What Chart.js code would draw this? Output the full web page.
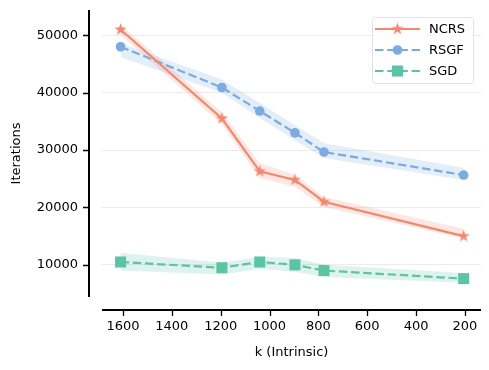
<!DOCTYPE html>
<html>
<head>
<meta charset="utf-8">
<script src="https://cdn.jsdelivr.net/npm/chart.js@4.4.1/dist/chart.umd.min.js"></script>
<style>
  html, body { margin: 0; padding: 0; background: #fff; }
  #wrap { width: 489px; height: 370px; }
</style>
</head>
<body>
<div id="wrap"><canvas id="grafico" width="489" height="370"></canvas></div>
<script>
// valores
const kValues = [1610, 1195, 1040, 896, 777, 205];
const xTicks = [1600, 1400, 1200, 1000, 800, 600, 400, 200];
const yTicks = [10000, 20000, 30000, 40000, 50000];

const ncrs = [51000, 35500, 26300, 24800, 21000, 15000];
const ncrsLow = [50100, 34500, 25100, 23600, 20100, 14600];
const ncrsHigh = [51800, 36600, 27700, 25700, 21800, 16300];

const rsgf = [48000, 40900, 36800, 33000, 29650, 25650];
const rsgfLow = [46200, 40000, 35600, 31700, 28600, 24800];
const rsgfHigh = [48600, 42300, 38200, 34300, 31200, 26900];

const sgd = [10500, 9500, 10500, 10000, 9000, 7600];
const sgdLow = [9000, 8300, 9300, 8800, 7900, 6900];
const sgdHigh = [12100, 10350, 11400, 11200, 10000, 8600];

const cores = { ncrs: '#f4876c', rsgf: '#7aace0', sgd: '#5bc4a3' };
const fonte = "'DejaVu Sans', sans-serif";

const pts = (ys) => ys.map((y, i) => ({ x: kValues[i], y: y }));

function hexAlpha(hex, a) {
    const n = parseInt(hex.slice(1), 16);
    return `rgba(${n >> 16}, ${(n >> 8) & 255}, ${n & 255}, ${a})`;
}

// estrela preenchida estilo matplotlib
function fazerEstrela(cor, r) {
    const c = document.createElement('canvas');
    const s = Math.ceil(r * 2 + 2);
    c.width = s; c.height = s;
    const g = c.getContext('2d');
    const ri = r * 0.381966;
    g.beginPath();
    for (let i = 0; i < 10; i++) {
        const ang = -Math.PI / 2 + i * Math.PI / 5;
        const rr = i % 2 === 0 ? r : ri;
        const px = s / 2 + rr * Math.cos(ang), py = s / 2 + rr * Math.sin(ang);
        if (i === 0) g.moveTo(px, py); else g.lineTo(px, py);
    }
    g.closePath();
    g.fillStyle = cor;
    g.fill();
    return c;
}
const estrela = fazerEstrela(cores.ncrs, 6.5);

function faixa(alto, baixo, cor) {
    return [
        { label: '_alto', data: pts(alto), borderWidth: 0, pointRadius: 0, fill: '+1',
          backgroundColor: hexAlpha(cor, 0.2), order: 10 },
        { label: '_baixo', data: pts(baixo), borderWidth: 0, pointRadius: 0, fill: false,
          backgroundColor: 'transparent', order: 10 }
    ];
}

const tracejado = [8.5, 3.7];
const linhas = [
    { label: 'NCRS', data: pts(ncrs), borderColor: cores.ncrs, backgroundColor: cores.ncrs,
      borderWidth: 2.2, pointStyle: estrela, pointRadius: 6, pointBorderWidth: 0, fill: false, order: 0 },
    { label: 'RSGF', data: pts(rsgf), borderColor: cores.rsgf, backgroundColor: cores.rsgf,
      borderWidth: 2.2, borderDash: tracejado, pointStyle: 'circle', pointRadius: 4.8,
      pointBorderWidth: 0, fill: false, order: 1 },
    { label: 'SGD', data: pts(sgd), borderColor: cores.sgd, backgroundColor: cores.sgd,
      borderWidth: 2.2, borderDash: tracejado, pointStyle: 'rect', pointRadius: 7.8,
      pointBorderWidth: 0, fill: false, order: 2 }
];

// sem o padding automatico dos rotulos
const semPadding = s => { s.paddingTop = 0; s.paddingBottom = 0; s.paddingLeft = 0; s.paddingRight = 0; };

const eixosDeslocados = {
    id: 'eixosDeslocados',
    afterDraw(chart) {
        const { ctx, chartArea: a, scales: { x, y } } = chart;
        ctx.save();
        ctx.strokeStyle = '#000';
        ctx.lineWidth = 2;
        const lx = a.left - 13, by = a.bottom + 13;
        ctx.beginPath();
        ctx.moveTo(lx, a.top); ctx.lineTo(lx, a.bottom);
        ctx.moveTo(a.left, by); ctx.lineTo(a.right, by);
        ctx.stroke();
        ctx.lineWidth = 1.3;
        ctx.beginPath();
        yTicks.forEach(v => {
            const py = Math.round(y.getPixelForValue(v)) + 0.5;
            ctx.moveTo(lx, py); ctx.lineTo(lx - 6, py);
        });
        xTicks.forEach(v => {
            const px = Math.round(x.getPixelForValue(v)) + 0.5;
            ctx.moveTo(px, by); ctx.lineTo(px, by + 6);
        });
        ctx.stroke();

        // legenda
        const bx = 372, byy = 17, bw = 101, bh = 66;
        ctx.beginPath();
        ctx.roundRect(bx + 0.5, byy + 0.5, bw, bh, 3);
        ctx.fillStyle = 'rgba(255,255,255,0.8)';
        ctx.fill();
        ctx.strokeStyle = '#e2e2e2';
        ctx.lineWidth = 1;
        ctx.stroke();
        ctx.font = `13px ${fonte}`;
        ctx.textBaseline = 'middle';
        ctx.textAlign = 'left';
        linhas.forEach((ds, i) => {
            const ry = 29 + i * 21;
            ctx.strokeStyle = ds.borderColor;
            ctx.lineWidth = 2.2;
            ctx.setLineDash(ds.borderDash || []);
            ctx.beginPath();
            ctx.moveTo(375, ry); ctx.lineTo(420, ry);
            ctx.stroke();
            ctx.setLineDash([]);
            ctx.fillStyle = ds.backgroundColor;
            if (ds.pointStyle === 'circle') {
                ctx.beginPath(); ctx.arc(397.5, ry, ds.pointRadius, 0, Math.PI * 2); ctx.fill();
            } else if (ds.pointStyle === 'rect') {
                const h = ds.pointRadius * Math.SQRT1_2;
                ctx.fillRect(397.5 - h, ry - h, 2 * h, 2 * h);
            } else {
                ctx.drawImage(ds.pointStyle, 397.5 - ds.pointStyle.width / 2, ry - ds.pointStyle.height / 2);
            }
            ctx.fillStyle = '#000';
            ctx.fillText(ds.label, 429, ry + 1);
        });
        ctx.restore();
    }
};

new Chart(document.getElementById('grafico'), {
    type: 'line',
    data: {
        datasets: [
            ...linhas,
            ...faixa(ncrsHigh, ncrsLow, cores.ncrs),
            ...faixa(rsgfHigh, rsgfLow, cores.rsgf),
            ...faixa(sgdHigh, sgdLow, cores.sgd)
        ]
    },
    options: {
        responsive: false,
        animation: false,
        layout: { autoPadding: false, padding: { top: 10, right: 8, left: 0, bottom: 0 } },
        plugins: { legend: { display: false }, tooltip: { enabled: false } },
        elements: { line: { tension: 0 } },
        scales: {
            x: {
                type: 'linear',
                reverse: true,
                min: 134,
                max: 1686,
                afterBuildTicks: s => { s.ticks = xTicks.map(v => ({ value: v })); },
                afterFit: s => { s.height = 73; semPadding(s); },
                grid: { display: false, drawTicks: false },
                border: { display: false },
                ticks: { color: '#000', font: { family: fonte, size: 13 }, padding: 22, maxRotation: 0,
                         callback: v => String(v) },
                title: { display: true, text: 'k (Intrinsic)', color: '#000',
                         font: { family: fonte, size: 13 }, padding: { top: 0, bottom: 10 } }
            },
            y: {
                min: 4400,
                max: 54400,
                afterBuildTicks: s => { s.ticks = yTicks.map(v => ({ value: v })); },
                afterFit: s => { s.width = 102; semPadding(s); },
                grid: { color: '#ececec', lineWidth: 1, drawTicks: false },
                border: { display: false },
                ticks: { color: '#000', font: { family: fonte, size: 13 }, padding: 24,
                         callback: v => String(v) },
                title: { display: true, text: 'Iterations', color: '#000',
                         font: { family: fonte, size: 13 }, padding: { top: 9, bottom: 0 } }
            }
        }
    },
    plugins: [eixosDeslocados]
});
</script>
</body>
</html>
